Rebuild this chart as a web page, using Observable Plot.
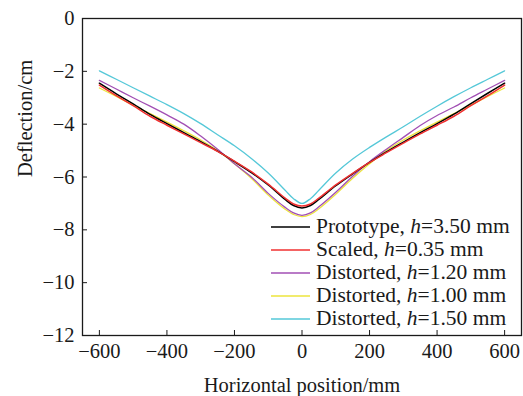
<!DOCTYPE html>
<html>
<head>
<meta charset="utf-8">
<script src="https://cdn.jsdelivr.net/npm/d3@7"></script>
<script src="https://cdn.jsdelivr.net/npm/@observablehq/plot@0.6"></script>
<style>
  html, body { margin: 0; padding: 0; background: #fff; }
  #wrap { position: relative; width: 523px; height: 396px; font-family: "Liberation Serif", "Times New Roman", serif; }
  #legend { position: absolute; left: 271px; top: 215px; font-size: 21.5px; color: #1a1a1a; line-height: 23px; }
  #legend .row { display: flex; align-items: center; height: 23px; white-space: nowrap; }
  #legend svg { margin-right: 6px; }
</style>
</head>
<body>
<div id="wrap"></div>
<script>
// Data
const positions = [-600,-550,-500,-450,-400,-350,-300,-250,-200,-150,-100,-50,-25,0,25,50,100,150,200,250,300,350,400,450,500,550,600];
const prototype = [-2.45,-2.85,-3.23,-3.63,-3.98,-4.32,-4.66,-5.02,-5.42,-5.83,-6.3,-6.85,-7.08,-7.17,-7.08,-6.85,-6.33,-5.88,-5.45,-5.05,-4.68,-4.32,-3.98,-3.62,-3.22,-2.83,-2.45];
const scaled = [-2.52,-2.92,-3.3,-3.7,-4.04,-4.37,-4.7,-5.03,-5.4,-5.8,-6.27,-6.8,-7.02,-7.1,-7.02,-6.8,-6.3,-5.86,-5.45,-5.08,-4.72,-4.37,-4.04,-3.7,-3.3,-2.92,-2.52];
const distorted120 = [-2.34,-2.67,-3.0,-3.32,-3.65,-4.0,-4.45,-4.95,-5.5,-6.0,-6.62,-7.15,-7.36,-7.45,-7.36,-7.13,-6.58,-5.97,-5.42,-4.95,-4.5,-4.05,-3.67,-3.35,-3.0,-2.67,-2.34];
const distorted100 = [-2.63,-2.95,-3.28,-3.6,-3.92,-4.25,-4.6,-5.0,-5.5,-6.05,-6.68,-7.22,-7.42,-7.5,-7.42,-7.2,-6.65,-6.05,-5.5,-5.0,-4.6,-4.25,-3.92,-3.6,-3.28,-2.95,-2.63];
const distorted150 = [-1.98,-2.3,-2.62,-2.94,-3.26,-3.6,-3.98,-4.4,-4.82,-5.3,-5.85,-6.5,-6.82,-7.0,-6.82,-6.5,-5.85,-5.32,-4.88,-4.48,-4.1,-3.7,-3.32,-2.96,-2.62,-2.3,-1.98];

const seriesNames = ["Prototype", "Scaled", "Distorted", "Distorted", "Distorted"];
const seriesH = ["3.50", "0.35", "1.20", "1.00", "1.50"];
const seriesColors = ["#000000", "#f03030", "#a24fb4", "#ece43c", "#55c8d8"];
const seriesValues = [prototype, scaled, distorted120, distorted100, distorted150];
const drawOrder = [3, 2, 4, 0, 1];

const xTicks = [-600, -400, -200, 0, 200, 400, 600];
const yTicks = [0, -2, -4, -6, -8, -10, -12];
const xTitle = "Horizontal position/mm";
const yTitle = "Deflection/cm";

const fmt = d => d < 0 ? "\u2212" + Math.abs(d) : String(d);

const rows = [];
drawOrder.forEach(i => {
  positions.forEach((x, j) => rows.push({series: i, x, y: seriesValues[i][j]}));
});

const marks = [];
drawOrder.forEach(i => {
  marks.push(Plot.line(rows.filter(r => r.series === i), {
    x: "x", y: "y", stroke: seriesColors[i], strokeWidth: i <= 1 ? 1.5 : 1.3, curve: "catmull-rom"
  }));
});

const chart = Plot.plot({
  width: 523,
  height: 396,
  marginLeft: 82,
  marginRight: 2,
  marginTop: 18,
  marginBottom: 61,
  style: { fontFamily: "Liberation Serif, Times New Roman, serif", fontSize: "20.5px", color: "#1a1a1a", background: "#fff" },
  x: { domain: [-650, 650] },
  y: { domain: [-12, 0] },
  marks: [
    ...marks,
    Plot.axisX({ ticks: xTicks, tickFormat: fmt, tickSize: -5, tickPadding: 13, label: null, fontSize: 20.5 }),
    Plot.axisY({ ticks: yTicks, tickFormat: fmt, tickSize: -5, tickPadding: 13, label: null, fontSize: 20.5 }),
    Plot.text([xTitle], { text: d => d, frameAnchor: "bottom", lineAnchor: "bottom", dy: 56, fontSize: 20.5 }),
    Plot.text([yTitle], { text: d => d, frameAnchor: "left", rotate: -90, lineAnchor: "middle", dx: -57, fontSize: 20.5 }),
    Plot.frame({ stroke: "#1a1a1a", strokeWidth: 1.3 })
  ]
});

const wrap = document.getElementById("wrap");
wrap.appendChild(chart);

const legend = document.createElement("div");
legend.id = "legend";
[0, 1, 2, 3, 4].forEach(i => {
  const row = document.createElement("div");
  row.className = "row";
  row.innerHTML = `<svg width="39" height="4"><line x1="0" x2="39" y1="2" y2="2" stroke="${seriesColors[i]}" stroke-width="1.5"/></svg><span>${seriesNames[i]}, <i>h</i>=${seriesH[i]} mm</span>`;
  legend.appendChild(row);
});
wrap.appendChild(legend);
</script>
</body>
</html>
